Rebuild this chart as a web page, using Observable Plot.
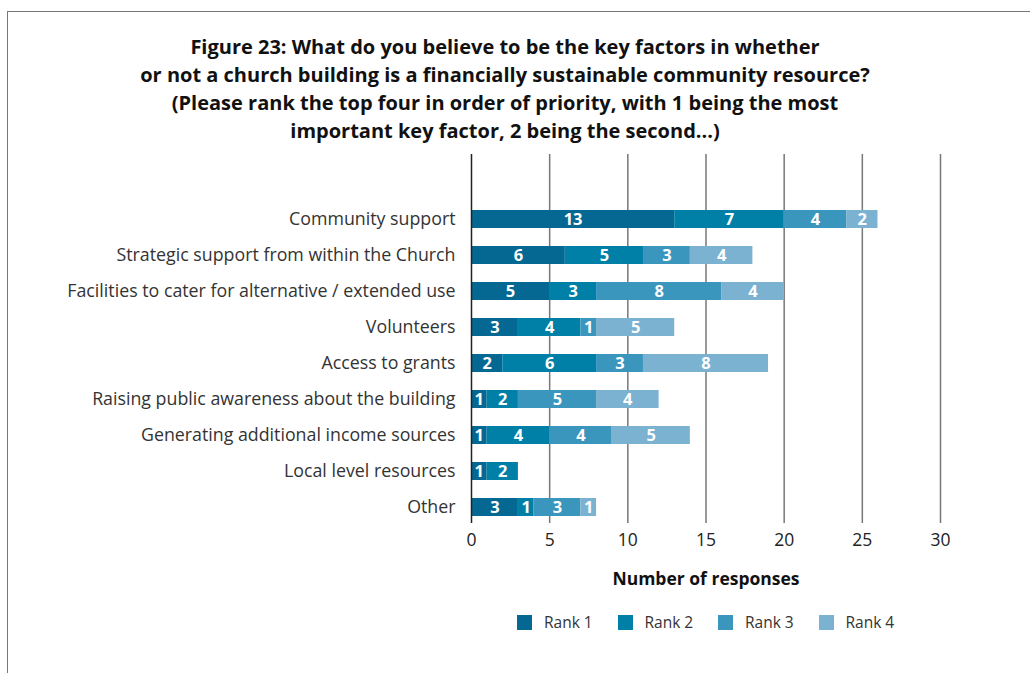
<!DOCTYPE html>
<html>
<head>
<meta charset="utf-8">
<script src="https://cdn.jsdelivr.net/npm/d3@7"></script>
<script src="https://cdn.jsdelivr.net/npm/@observablehq/plot@0.6"></script>
<style>
  html, body { margin: 0; padding: 0; background: #fff; }
  body { width: 1030px; height: 673px; position: relative; overflow: hidden; font-family: "Open Sans", sans-serif; }
  #frame { position: absolute; left: 7px; top: 11px; width: 1040px; height: 700px; border-top: 1.5px solid #777; border-left: 1.5px solid #777; }
  #title { position: absolute; left: 7px; width: 996px; top: 33px; text-align: center; font-weight: 700; font-size: 20px; line-height: 28px; color: #111; }
  #chart { position: absolute; left: 0; top: 150px; }
  #legend { position: absolute; top: 611px; left: 517px; display: flex; font-size: 15.5px; color: #333; }
  #legend .item { display: flex; align-items: center; width: 100.5px; }
  #legend .sw { width: 15px; height: 15px; margin-right: 12px; }
</style>
</head>
<body>
<div id="frame"></div>
<div id="title">Figure 23: What do you believe to be the key factors in whether<br>or not a church building is a financially sustainable community resource?<br>(Please rank the top four in order of priority, with 1 being the most<br>important key factor, 2 being the second...)</div>
<div id="chart"></div>
<div id="legend"></div>
<script>
const categories = [
  "Community support",
  "Strategic support from within the Church",
  "Facilities to cater for alternative / extended use",
  "Volunteers",
  "Access to grants",
  "Raising public awareness about the building",
  "Generating additional income sources",
  "Local level resources",
  "Other"
];
const rank1 = [13, 6, 5, 3, 2, 1, 1, 1, 3];
const rank2 = [7, 5, 3, 4, 6, 2, 4, 2, 1];
const rank3 = [4, 3, 8, 1, 3, 5, 4, 0, 3];
const rank4 = [2, 4, 4, 5, 8, 4, 5, 0, 1];
const ranks = ["Rank 1", "Rank 2", "Rank 3", "Rank 4"];
const rankColors = ["#056892", "#007fa7", "#3b96be", "#7bb2d2"];
const xTicks = [0, 5, 10, 15, 20, 25, 30];
const xLabel = "Number of responses";

const series = [rank1, rank2, rank3, rank4];
const data = [];
categories.forEach((c, i) => {
  series.forEach((s, j) => data.push({category: c, rank: ranks[j], value: s[i]}));
});

const chart = Plot.plot({
  width: 1030,
  height: 448,
  marginLeft: 471,
  marginRight: 90,
  marginTop: 4,
  marginBottom: 75,
  style: {fontFamily: "'Open Sans', sans-serif", fontSize: "16px", color: "#333", background: "transparent"},
  x: {domain: [0, 30], ticks: xTicks},
  y: {domain: categories, range: [57.94, 367.06], paddingInner: 0.5, paddingOuter: 0},
  color: {domain: ranks, range: rankColors},
  marks: [
    Plot.ruleX(xTicks.filter(t => t > 0), {stroke: "#777", strokeWidth: 1.5}),
    Plot.barX(data, Plot.stackX({x: "value", y: "category", fill: "rank"})),
    Plot.ruleX([0], {stroke: "#222", strokeWidth: 1.5}),
    Plot.text(data, Plot.stackX({x: "value", y: "category", text: d => d.value > 0 ? String(d.value) : "", fill: "white", fontWeight: "bold", fontSize: 16.5})),
    Plot.axisX({ticks: xTicks, tickSize: 0, tickPadding: 10, label: null, fontSize: 17.5, fill: "#222"}),
    Plot.axisY({tickSize: 0, tickPadding: 16, label: null, fontSize: 17.8, fill: "#333"}),
    Plot.text([xLabel], {frameAnchor: "bottom", dy: 61, fontWeight: "bold", fontSize: 17.5, fill: "#111"})
  ]
});
document.getElementById("chart").appendChild(chart);

const legend = document.getElementById("legend");
ranks.forEach((r, i) => {
  const item = document.createElement("div");
  item.className = "item";
  const sw = document.createElement("div");
  sw.className = "sw";
  sw.style.background = rankColors[i];
  const lab = document.createElement("span");
  lab.textContent = r;
  item.appendChild(sw);
  item.appendChild(lab);
  legend.appendChild(item);
});
</script>
</body>
</html>
